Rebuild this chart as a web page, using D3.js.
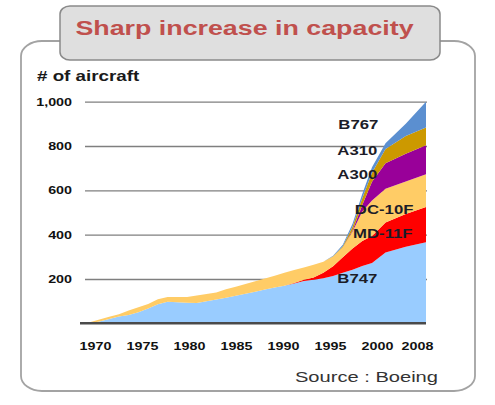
<!DOCTYPE html>
<html>
<head>
<meta charset="utf-8">
<script src="https://cdn.jsdelivr.net/npm/d3@7/dist/d3.min.js"></script>
<style>
  html, body { margin: 0; padding: 0; background: #ffffff; }
  svg { display: block; }
  text { font-family: "Liberation Sans", Arial, sans-serif; }
</style>
</head>
<body>
<svg id="chart" width="495" height="405"></svg>
<script>
// ---------------- DATA ----------------
const years = [1970,1971,1972,1973,1974,1975,1976,1977,1978,1979,
               1980,1981,1982,1983,1984,1985,1986,1987,1988,1989,
               1990,1991,1992,1993,1994,1995,1996,1997,1998,1999,
               2000,2002,2005,2008];
const seriesNames = ["B747", "MD-11F", "DC-10F", "A300", "A310", "B767"];
const b747  = [0,0,8,19,31,38,50,67,86,97, 95,93,92,99,107,115,124,133,142,152, 162,170,180,191,197,203,213,228,242,259, 272,320,345,366];
const md11f = [0,0,0,0,0,0,0,0,0,0, 0,0,0,0,0,0,0,0,0,0, 0,0,2,5,10,25,45,70,95,112, 122,135,148,159];
const dc10f = [0,5,9,10,10,20,22,20,23,22, 24,26,33,33,32,39,41,44,48,50, 53,58,58,56,57,50,43,45,77,133, 160,152,147,148];
const a300  = [0,0,0,0,0,0,0,0,0,0, 0,0,0,0,0,0,0,0,0,0, 0,0,0,0,0,0,0,0,5,30, 85,115,125,131];
const a310  = [0,0,0,0,0,0,0,0,0,0, 0,0,0,0,0,0,0,0,0,0, 0,0,0,0,0,0,2,5,17,30, 40,65,80,80];
const b767  = [0,0,0,0,0,0,0,0,0,0, 0,0,0,0,0,0,0,0,0,0, 0,0,0,0,0,0,2,7,13,20, 25,25,55,116];
const tickYears = [1970, 1975, 1980, 1985, 1990, 1995, 2000, 2008];
const yTicks = [200, 400, 600, 800, 1000];
const colors = ["#99ccff", "#ff0000", "#ffcc66", "#990099", "#cc9900", "#5b8fd0"];

// ---------------- SETUP ----------------
const svg = d3.select("#chart");
const SX = 1.34; // horizontal stretch of the original picture's lettering
function stretch(sel, k) {
  sel.each(function () {
    const w = this.getComputedTextLength();
    d3.select(this).attr("textLength", w * k).attr("lengthAdjust", "spacingAndGlyphs");
  });
}

const columns = [b747, md11f, dc10f, a300, a310, b767];
const rows = years.map((yr, i) => {
  const r = { year: yr };
  seriesNames.forEach((k, j) => { r[k] = columns[j][i]; });
  return r;
});

const x = d3.scaleLinear().domain([1970, 2000, 2008]).range([80, 372, 426]);
const xTick = d3.scaleLinear().domain([1970, 2000, 2008]).range([95, 377, 417]);
const y = d3.scaleLinear().domain([0, 1000]).range([323.3, 101.7]);
const color = d3.scaleOrdinal().domain(seriesNames).range(colors);

// ---------------- FRAME ----------------
svg.append("rect")
  .attr("x", 21).attr("y", 41).attr("width", 454).attr("height", 350)
  .attr("rx", 21).attr("ry", 15)
  .attr("fill", "#ffffff").attr("stroke", "#a3a3a3").attr("stroke-width", 1.8);

svg.append("rect")
  .attr("x", 60).attr("y", 6).attr("width", 380).attr("height", 54)
  .attr("rx", 10).attr("ry", 8)
  .attr("fill", "#dfdfdf").attr("stroke", "#8a8a8a").attr("stroke-width", 1.5);

svg.append("text")
  .attr("x", 244.5).attr("y", 35)
  .attr("text-anchor", "middle")
  .attr("font-size", 20).attr("font-weight", "bold")
  .attr("fill", "#c0504d")
  .text("Sharp increase in capacity")
  .call(stretch, SX);

svg.append("text")
  .attr("x", 37).attr("y", 81)
  .attr("font-size", 14).attr("font-weight", "bold")
  .attr("fill", "#1a1a1a")
  .text("# of aircraft")
  .call(stretch, SX);

// ---------------- GRID ----------------
const grid = svg.append("g").attr("transform", "translate(85,0)")
  .call(d3.axisRight(y).tickValues(yTicks).tickSize(342).tickFormat(""));
grid.select(".domain").remove();
grid.selectAll("line").attr("stroke", "#7f7f7f").attr("stroke-width", 1.3);

// ---------------- AREAS ----------------
const stacked = d3.stack().keys(seriesNames)(rows);
const area = d3.area()
  .x(d => x(d.data.year))
  .y0(d => y(d[0]))
  .y1(d => y(d[1]));

svg.append("g").selectAll("path")
  .data(stacked)
  .join("path")
  .attr("d", area)
  .attr("fill", d => color(d.key));

// baseline
svg.append("line")
  .attr("x1", x(1970)).attr("x2", x(2008))
  .attr("y1", y(0)).attr("y2", y(0))
  .attr("stroke", "#4a4a4a").attr("stroke-width", 2.6);

// ---------------- AXES ----------------
const yAxis = svg.append("g").attr("transform", "translate(72,0)")
  .call(d3.axisLeft(y).tickValues(yTicks).tickFormat(d3.format(",")).tickSize(0).tickPadding(0));
yAxis.select(".domain").remove();
yAxis.selectAll("text")
  .attr("font-size", 11).attr("font-weight", "bold").attr("fill", "#111")
  .attr("font-family", "Liberation Sans, Arial, sans-serif")
  .call(stretch, 1.3);

const xAxis = svg.append("g").attr("transform", `translate(0,${y(0)})`)
  .call(d3.axisBottom(xTick).tickValues(tickYears).tickFormat(d3.format("d")).tickSize(0).tickPadding(19));
xAxis.select(".domain").remove();
xAxis.selectAll("text")
  .attr("font-size", 11).attr("font-weight", "bold").attr("fill", "#111")
  .attr("font-family", "Liberation Sans, Arial, sans-serif")
  .call(stretch, 1.3);

// ---------------- SERIES LABELS ----------------
const labelAt = {
  "B767":   [1998.6, 875],
  "A310":   [1998.5, 759],
  "A300":   [1998.5, 650],
  "DC-10F": [2001.8, 493],
  "MD-11F": [2001.6, 385],
  "B747":   [1998.5, 183]
};
svg.append("g").selectAll("text")
  .data(seriesNames)
  .join("text")
  .attr("x", d => x(labelAt[d][0]))
  .attr("y", d => y(labelAt[d][1]))
  .attr("text-anchor", "middle")
  .attr("font-size", 12.5).attr("font-weight", "bold")
  .attr("fill", "#1c1c28")
  .text(d => d)
  .call(stretch, SX);

// ---------------- SOURCE ----------------
svg.append("text")
  .attr("x", 438).attr("y", 382)
  .attr("text-anchor", "end")
  .attr("font-size", 15)
  .attr("fill", "#333")
  .text("Source : Boeing")
  .call(stretch, SX);
</script>
</body>
</html>
